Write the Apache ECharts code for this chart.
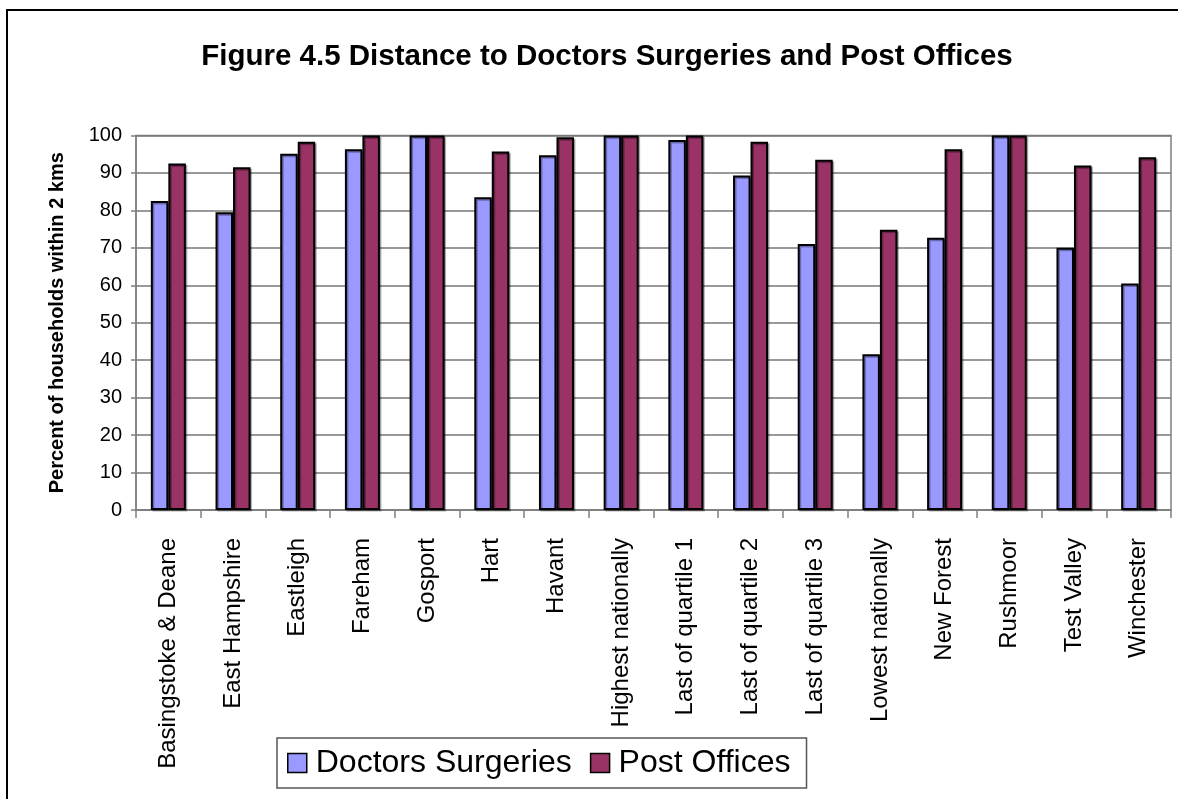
<!DOCTYPE html>
<html style="height: 100%">
<head>
    <meta charset="utf-8">
    <style>
        html, body {
            height: 100%;
            margin: 0;
            padding: 0;
            overflow: hidden;
            background: #fff;
        }
        #container {
            width: 1178px;
            height: 799px;
        }
    </style>
</head>
<body>
    <div id="container"></div>

    <script src="https://cdn.jsdelivr.net/npm/echarts@6/dist/echarts.min.js"></script>
    <script>
        // categories along the x axis
        var areas = ['Basingstoke & Deane', 'East Hampshire', 'Eastleigh', 'Fareham', 'Gosport',
            'Hart', 'Havant', 'Highest nationally', 'Last of quartile 1', 'Last of quartile 2',
            'Last of quartile 3', 'Lowest nationally', 'New Forest', 'Rushmoor', 'Test Valley', 'Winchester'];
        // percent of households within 2 kms
        var doctors = [82.5, 79.5, 95.1, 96.3, 100, 83.5, 94.7, 100, 98.8, 89.3, 71, 41.6, 72.7, 100, 70, 60.5];
        var postOffices = [92.5, 91.5, 98.3, 100, 100, 95.7, 99.5, 100, 100, 98.3, 93.5, 74.8, 96.3, 100, 92, 94.2];
        var seriesNames = ['Doctors Surgeries', 'Post Offices'];

        var font = '"Liberation Sans", Arial, sans-serif';
        var dom = document.getElementById('container');
        var myChart = echarts.init(dom);

        function barSeries(name, values, color) {
            return {
                name: name,
                type: 'bar',
                data: values,
                barWidth: 17.5,
                barGap: '0%',
                itemStyle: {
                    color: color,
                    borderColor: '#000',
                    borderWidth: 2,
                    shadowColor: 'rgba(0,0,0,0.3)',
                    shadowOffsetX: 1.5,
                    shadowOffsetY: 1.5,
                    shadowBlur: 0
                },
                emphasis: { disabled: true }
            };
        }

        var option = {
            animation: false,
            textStyle: { fontFamily: font, color: '#000' },
            title: {
                text: 'Figure 4.5 Distance to Doctors Surgeries and Post Offices',
                left: 602,
                textAlign: 'center',
                top: 37,
                textStyle: { fontFamily: font, fontSize: 29.5, fontWeight: 'bold', color: '#000' }
            },
            graphic: [{
                type: 'rect',
                shape: { x: 7, y: 10, width: 1400, height: 1000 },
                style: { fill: 'none', stroke: '#000', lineWidth: 2 },
                silent: true
            }],
            legend: {
                data: seriesNames,
                left: 277,
                top: 738,
                orient: 'horizontal',
                icon: 'rect',
                itemWidth: 19,
                itemHeight: 19,
                itemGap: 18,
                padding: [9, 16, 9, 10],
                borderColor: '#555',
                borderWidth: 1.5,
                itemStyle: { borderColor: '#000', borderWidth: 1.5 },
                textStyle: { fontFamily: font, fontSize: 32, color: '#000', padding: [0, 0, 0, 4] }
            },
            grid: {
                left: 136,
                right: 7,
                top: 135.5,
                bottom: 289,
                show: true,
                borderColor: '#808080',
                borderWidth: 1.5
            },
            xAxis: {
                type: 'category',
                data: areas,
                axisLine: { lineStyle: { color: '#808080', width: 1.5 } },
                axisTick: { show: true, length: 8, lineStyle: { color: '#808080', width: 1.5 } },
                axisLabel: {
                    rotate: 90,
                    interval: 0,
                    margin: 28,
                    fontFamily: font,
                    fontSize: 24,
                    color: '#000'
                }
            },
            yAxis: {
                type: 'value',
                min: 0,
                max: 100,
                interval: 10,
                name: 'Percent of households within 2 kms',
                nameLocation: 'middle',
                nameGap: 69,
                nameTextStyle: { fontFamily: font, fontSize: 20, fontWeight: 'bold', color: '#000' },
                axisLine: { show: true, lineStyle: { color: '#808080', width: 1.5 } },
                axisTick: { show: true, length: 5, lineStyle: { color: '#808080', width: 1.5 } },
                axisLabel: { margin: 14, fontFamily: font, fontSize: 20, color: '#000' },
                splitLine: { lineStyle: { color: '#777', width: 1.5 } }
            },
            series: [
                barSeries(seriesNames[0], doctors, '#9999FF'),
                barSeries(seriesNames[1], postOffices, '#993366')
            ]
        };
        myChart.setOption(option);
    </script>
</body>
</html>
